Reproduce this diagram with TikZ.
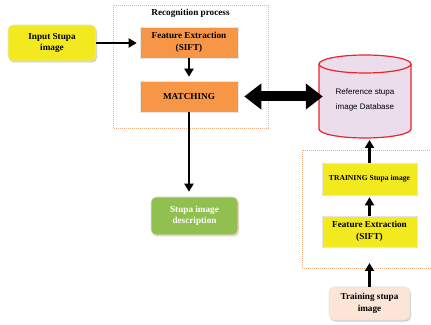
\documentclass[tikz,border=0pt]{standalone}
\usepackage{fontspec}
\setmainfont{Liberation Serif}
\newfontfamily\arialf{Liberation Sans}
\usetikzlibrary{arrows.meta,shadows}
\definecolor{yel}{HTML}{F2EA1E}
\definecolor{org}{HTML}{F79646}
\definecolor{grn}{HTML}{92C050}
\definecolor{pch}{HTML}{FCE4D6}
\definecolor{dsh}{HTML}{F4B183}
\definecolor{lav}{HTML}{EBDDEB}
\definecolor{cylred}{HTML}{E8262A}
\begin{document}
\begin{tikzpicture}[x=1pt,y=1pt,
  box/.style={draw=white!80!gray, line width=0.6pt, align=center,
    font=\fontsize{9.2}{11.5}\selectfont\bfseries, inner sep=1pt},
  shd/.style={drop shadow={shadow xshift=1pt,shadow yshift=-1.5pt,fill=black!40,opacity=0.5}},
  arr/.style={-{Triangle[length=8pt,width=9pt]}, line width=2.4pt},
  dbox/.style={draw=dsh, dash pattern=on 1pt off 1pt, line width=0.5pt}]
\useasboundingbox (0,0) rectangle (431,324);
% dashed group boxes
\draw[dbox] (113,196) rectangle (268,319);
\node[font=\fontsize{9.2}{11}\selectfont\bfseries] (rtitle) at (190.5,311) {Recognition process};
\draw[dbox] (436,174) -- (302,174) -- (302,56) -- (436,56);
% nodes
\node[box, shd, fill=yel, rounded corners=5pt, minimum width=88pt, minimum height=36pt] (inp) at (52,281) {Input Stupa\\image};
\node[box, shd, fill=org, minimum width=98pt, minimum height=31pt] (fe) at (189,281.5) {Feature Extraction\\(SIFT)};
\node[box, shd, fill=org, minimum width=98pt, minimum height=31pt] (match) at (189,227.5) {MATCHING};
\node[box, drop shadow={shadow xshift=1pt,shadow yshift=-1.5pt,fill=red!40!brown!60,opacity=0.5}, fill=grn, text=white, rounded corners=5pt, minimum width=87pt, minimum height=38pt] (desc) at (194.5,108) {Stupa image\\description};
\node[box, shd, fill=yel, minimum width=95pt, minimum height=32pt, font=\fontsize{7.6}{9}\selectfont\bfseries] (tr) at (369.5,145) {TRAINING Stupa image};
\node[box, shd, fill=yel, minimum width=95pt, minimum height=31pt] (fe2) at (369.5,92.5) {Feature Extraction\\(SIFT)};
\node[box, shd, fill=pch, rounded corners=5pt, minimum width=81pt, minimum height=33pt] (tsi) at (369.5,20.5) {Training stupa\\image};
% cylinder
\filldraw[fill=lav, draw=cylred, line width=1.2pt] (319,260) -- (319,195)
  arc[start angle=180, end angle=360, x radius=46, y radius=9] -- (411,260)
  arc[start angle=0, end angle=180, x radius=46, y radius=9] -- cycle;
\draw[cylred, line width=1.2pt] (319,260) arc[start angle=180, end angle=360, x radius=46, y radius=9];
\node[align=center, font=\arialf\fontsize{8}{15}\selectfont, minimum width=92pt, inner sep=0pt] (db) at (365,224) {Reference stupa\\image Database};
\coordinate (dbs) at (365,186);
\coordinate (rbin) at (369.5,61);
% connectors
\draw[arr, shorten >=3pt] (inp.east) -- (fe.west |- inp.east);
\draw[arr, shorten >=4pt] (fe.south) -- (match.north);
\draw[arr, shorten >=5pt] (match.south) -- (match.south |- desc.north);
\draw[line width=10pt, {Triangle[length=17pt,width=25pt]}-{Triangle[length=17pt,width=25pt]}, shorten <=6pt, shorten >=-4pt] (match.east) -- (db.west |- match.east);
\draw[arr, shorten >=2pt] (tr.north) -- (tr.north |- dbs);
\draw[arr, shorten >=2pt] (fe2.north) -- (tr.south);
\draw[arr] (tsi.north) -- (tsi.north |- rbin);
\end{tikzpicture}
\end{document}
